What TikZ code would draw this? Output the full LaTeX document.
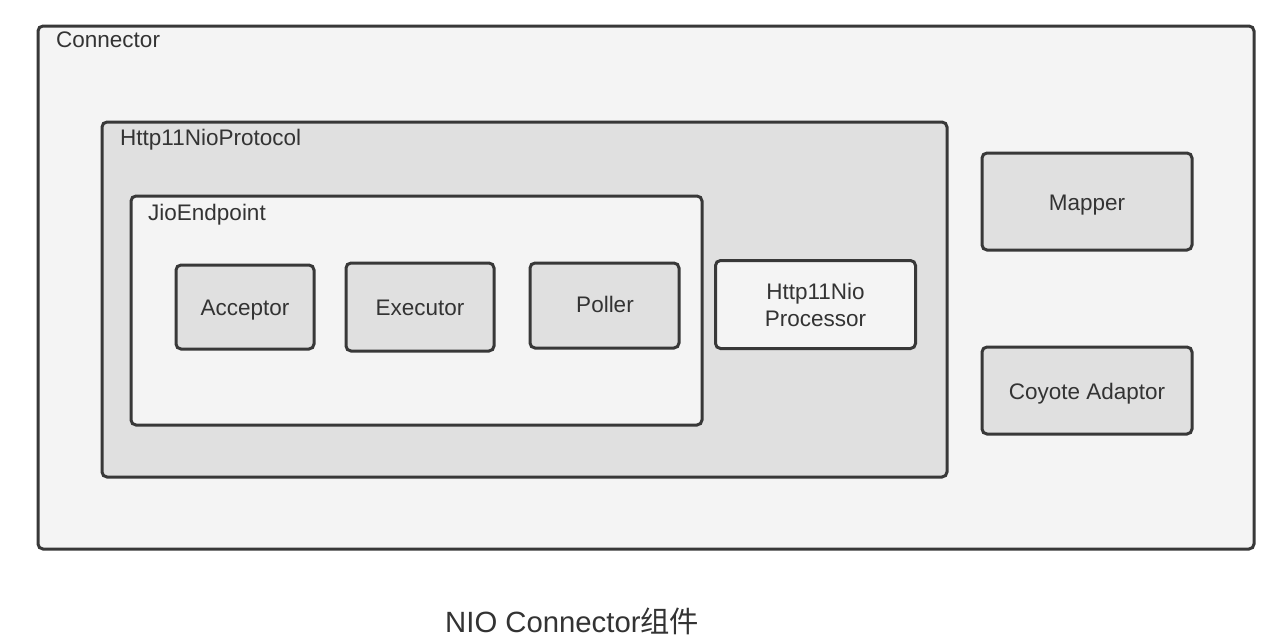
\documentclass[tikz,border=0pt]{standalone}
\usepackage{fontspec}
\setmainfont{Liberation Sans}
\newfontfamily\cjk{Noto Sans CJK SC}
\definecolor{edge}{HTML}{383838}
\definecolor{light}{HTML}{F4F4F4}
\definecolor{mid}{HTML}{E0E0E0}
\definecolor{txt}{HTML}{333333}
\tikzset{
  box/.style={draw=edge, line width=3pt, rounded corners=5pt, inner sep=0pt},
  lightbox/.style={box, fill=light},
  midbox/.style={box, fill=mid},
  lbl/.style={text=txt, font=\fontsize{22.5}{26}\selectfont, inner sep=0pt, anchor=base},
  corner label/.style={lbl, anchor=base west},
}
\begin{document}
\begin{tikzpicture}[x=1pt,y=-1pt]
\useasboundingbox[fill=white] (0,0) rectangle (1270,638);
\node[lightbox, minimum width=1216pt, minimum height=523pt] (conn) at (646,287.5) {};
\node[corner label] (connl) at (56,47) {Connector};
\node[midbox, minimum width=845pt, minimum height=355pt] (proto) at (524.5,299.5) {};
\node[corner label] (protol) at (120,145) {Http11NioProtocol};
\node[lightbox, minimum width=571pt, minimum height=229pt] (jio) at (416.5,310.5) {};
\node[corner label] (jiol) at (148,220) {JioEndpoint};
\node[midbox, minimum width=138pt, minimum height=84pt] (acc) at (245,307) {};
\node[lbl] (accl) at (245,315) {Acceptor};
\node[midbox, minimum width=148pt, minimum height=88pt] (exe) at (420,307) {};
\node[lbl] (exel) at (420,315) {Executor};
\node[midbox, minimum width=149pt, minimum height=85pt] (pol) at (604.5,305.5) {};
\node[lbl] (poll) at (605,312) {Poller};
\node[lightbox, minimum width=200pt, minimum height=88pt] (proc) at (815.5,304.5) {};
\node[lbl] (procl1) at (815.5,299) {Http11Nio};
\node[lbl] (procl2) at (815.5,326) {Processor};
\node[midbox, minimum width=210pt, minimum height=97pt] (map) at (1087,201.5) {};
\node[lbl] (mapl) at (1087,210) {Mapper};
\node[midbox, minimum width=210pt, minimum height=87pt] (coy) at (1087,390.5) {};
\node[lbl] (coyl) at (1087,399) {Coyote Adaptor};
\node[text=txt, inner sep=0pt, anchor=base west, font=\fontsize{29.3}{33}\selectfont] (title) at (445,632) {NIO Connector{\cjk 组件}};
\end{tikzpicture}
\end{document}
